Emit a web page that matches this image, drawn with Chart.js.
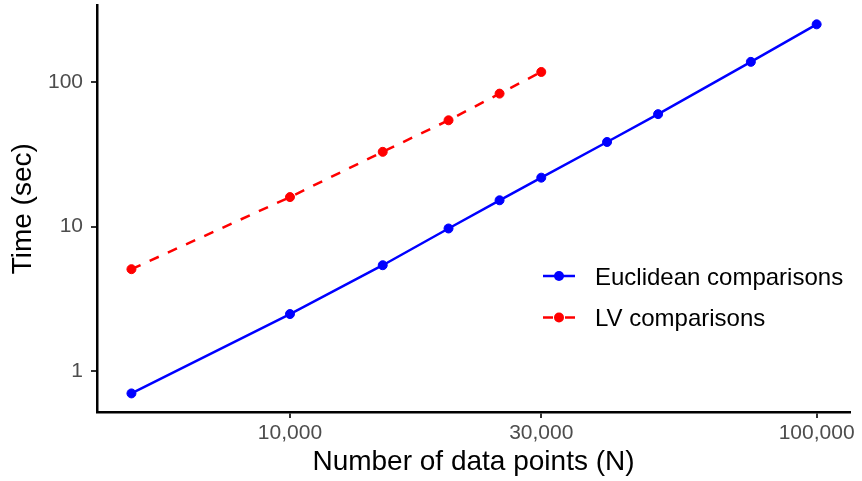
<!DOCTYPE html>
<html>
<head>
<meta charset="utf-8">
<script src="https://cdn.jsdelivr.net/npm/chart.js@4.4.1/dist/chart.umd.min.js"></script>
<style>
  html, body { margin: 0; padding: 0; background: #ffffff; }
  canvas { display: block; }
</style>
</head>
<body>
<canvas id="c" width="862" height="481"></canvas>
<script>
// ---- data ----
const nPoints = [5000, 10000, 15000, 20000, 25000, 30000, 40000, 50000, 75000, 100000];
const euclideanTime = [0.70, 2.48, 5.4, 9.7, 15.2, 21.8, 38.5, 60, 138, 251];
const lvTime = [5.07, 16.0, 32.9, 54.4, 83.2, 117.5];
const seriesNames = ["Euclidean comparisons", "LV comparisons"];
const xTickValues = [10000, 30000, 100000];
const yTickValues = [1, 10, 100];
const xTitle = "Number of data points (N)";
const yTitle = "Time (sec)";

const FONT = "'Liberation Sans', Arial, Helvetica, sans-serif";
const BLUE = "#0000FF";
const RED = "#FF0000";

function toPts(xs, ys) { return ys.map((y, i) => ({ x: xs[i], y: y })); }

const legendPlugin = {
  id: 'insideLegend',
  afterDraw(chart) {
    const ctx = chart.ctx;
    const rows = [
      { label: seriesNames[0], color: BLUE, dash: false, y: 276 },
      { label: seriesNames[1], color: RED, dash: true, y: 317.5 }
    ];
    ctx.save();
    rows.forEach(r => {
      ctx.strokeStyle = r.color;
      ctx.lineWidth = 2.5;
      ctx.setLineDash([]);
      ctx.beginPath();
      if (r.dash) {
        ctx.moveTo(543, r.y); ctx.lineTo(553, r.y);
        ctx.moveTo(565, r.y); ctx.lineTo(575, r.y);
      } else {
        ctx.moveTo(543, r.y); ctx.lineTo(575, r.y);
      }
      ctx.stroke();
      ctx.fillStyle = r.color;
      ctx.beginPath();
      ctx.arc(559, r.y, 5, 0, Math.PI * 2);
      ctx.fill();
      ctx.fillStyle = '#000000';
      ctx.font = "24px " + FONT;
      ctx.textBaseline = 'middle';
      ctx.textAlign = 'left';
      ctx.fillText(r.label, 595, r.y + 2.3);
    });
    ctx.restore();
  }
};

new Chart(document.getElementById('c'), {
  type: 'line',
  data: {
    datasets: [
      {
        label: seriesNames[0],
        data: toPts(nPoints, euclideanTime),
        borderColor: BLUE,
        backgroundColor: BLUE,
        borderWidth: 2.5,
        pointRadius: 4.5,
        pointBorderWidth: 1,
        pointBorderColor: BLUE,
        pointBackgroundColor: BLUE,
        tension: 0,
        fill: false
      },
      {
        label: seriesNames[1],
        data: toPts(nPoints, lvTime),
        borderColor: RED,
        backgroundColor: RED,
        borderWidth: 2.5,
        borderDash: [10, 10],
        pointRadius: 4.5,
        pointBorderWidth: 1,
        pointBorderColor: RED,
        pointBackgroundColor: RED,
        tension: 0,
        fill: false
      }
    ]
  },
  options: {
    responsive: false,
    animation: false,
    devicePixelRatio: 1,
    layout: { padding: { left: 0, right: 12, top: 5, bottom: 0 } },
    plugins: { legend: { display: false }, tooltip: { enabled: false }, title: { display: false } },
    scales: {
      x: {
        type: 'logarithmic',
        position: 'bottom',
        min: 4301,
        max: 115700,
        bounds: 'data',
        afterBuildTicks(scale) { scale.ticks = xTickValues.map(v => ({ value: v })); },
        afterFit(scale) { scale.height = 69; scale.paddingLeft = 0; scale.paddingRight = 0; },
        grid: { drawOnChartArea: false, drawTicks: true, tickLength: 6, color: '#333333', lineWidth: 2 },
        border: { display: true, color: '#000000', width: 2.5 },
        ticks: {
          autoSkip: false,
          maxRotation: 0,
          padding: 3,
          color: '#4D4D4D',
          font: { family: FONT, size: 21 },
          callback: v => Number(v).toLocaleString('en-US')
        },
        title: {
          display: true,
          text: xTitle,
          color: '#000000',
          font: { family: FONT, size: 28 },
          padding: { top: 0, bottom: 2.2 }
        }
      },
      y: {
        type: 'logarithmic',
        position: 'left',
        min: 0.5206,
        max: 338.9,
        bounds: 'data',
        afterBuildTicks(scale) { scale.ticks = yTickValues.map(v => ({ value: v })); },
        afterFit(scale) { scale.width = 97; scale.paddingTop = 0; scale.paddingBottom = 0; },
        grid: { drawOnChartArea: false, drawTicks: true, tickLength: 6, color: '#333333', lineWidth: 2 },
        border: { display: true, color: '#000000', width: 2.5 },
        ticks: {
          autoSkip: false,
          padding: 8,
          color: '#4D4D4D',
          font: { family: FONT, size: 21 },
          callback: v => String(v)
        },
        title: {
          display: true,
          text: yTitle,
          color: '#000000',
          font: { family: FONT, size: 28 },
          padding: { top: 6.5, bottom: 0 }
        }
      }
    }
  },
  plugins: [legendPlugin]
});
</script>
</body>
</html>
